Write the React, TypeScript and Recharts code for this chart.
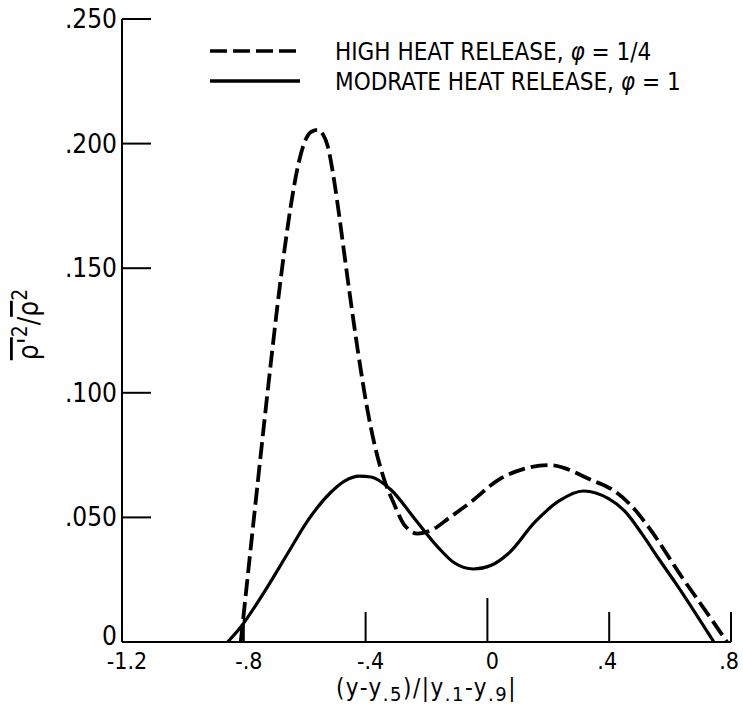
import { LineChart, Line, XAxis, YAxis, Legend } from 'recharts';

const FONT = "'Liberation Sans Narrow', 'DejaVu Sans Condensed', sans-serif";

const X_TICKS = [-1.2, -0.8, -0.4, 0, 0.4, 0.8];
const X_TICK_LABELS = ['-1.2', '-.8', '-.4', '0', '.4', '.8'];
const Y_TICKS = [0, 0.05, 0.1, 0.15, 0.2, 0.25];
const Y_TICK_LABELS = ['0', '.050', '.100', '.150', '.200', '.250'];

// high heat release, phi = 1/4 (dashed)
const HIGH_X = [-0.81, -0.766, -0.711, -0.689, -0.667, -0.645, -0.623, -0.601, -0.58, -0.558, -0.54, -0.525, -0.503, -0.486, -0.47, -0.448, -0.426, -0.393, -0.372, -0.339, -0.306, -0.273, -0.229, -0.174, -0.129, -0.053, 0.035, 0.12, 0.201, 0.342, 0.418, 0.474, 0.53, 0.639, 0.728, 0.787];
const HIGH_Y = [0, 0.0506, 0.1122, 0.1355, 0.1568, 0.1755, 0.1905, 0.2004, 0.2046, 0.2055, 0.2037, 0.1992, 0.1849, 0.1705, 0.1558, 0.136, 0.1173, 0.0925, 0.08, 0.0652, 0.0553, 0.047, 0.0435, 0.0455, 0.0495, 0.0563, 0.065, 0.0695, 0.071, 0.065, 0.0605, 0.0545, 0.046, 0.026, 0.0105, 0];

// moderate heat release, phi = 1 (solid)
const MOD_X = [-0.853, -0.81, -0.744, -0.656, -0.59, -0.514, -0.468, -0.421, -0.382, -0.316, -0.239, -0.162, -0.109, -0.046, 0.013, 0.069, 0.155, 0.234, 0.316, 0.398, 0.451, 0.507, 0.562, 0.616, 0.682, 0.744];
const MOD_Y = [0, 0.006, 0.0179, 0.0355, 0.0487, 0.0601, 0.0647, 0.0666, 0.0662, 0.061, 0.0495, 0.038, 0.0318, 0.0293, 0.0308, 0.0355, 0.048, 0.0565, 0.0606, 0.0575, 0.0525, 0.0435, 0.0335, 0.024, 0.0118, 0];

const LEGEND_NAMES = ['HIGH HEAT RELEASE, ', 'MODRATE HEAT RELEASE, '];
const LEGEND_PHI = ['1/4', '1'];
const LEGEND_DASH = ['17 6', undefined];

const high = HIGH_X.map((x, i) => ({ x, y: HIGH_Y[i] }));
const moderate = MOD_X.map((x, i) => ({ x, y: MOD_Y[i] }));

const idx = (arr: number[], v: number) => arr.findIndex((t) => Math.abs(t - v) < 1e-9);

function XTick({ x, y, payload }: any) {
  const v = payload.value;
  const len = Math.abs(v) < 1e-9 ? 44 : 30;
  return (
    <g>
      {v > -1.1 && <line x1={x} x2={x} y1={y} y2={y - len} stroke="#000" strokeWidth={2} />}
      <text x={x + (v < 0.1 ? 5 : -2)} y={y + 27} textAnchor="middle" fontSize={23} fontFamily={FONT} fill="#000">
        {X_TICK_LABELS[idx(X_TICKS, v)]}
      </text>
    </g>
  );
}

function YTick({ x, y, payload }: any) {
  const v = payload.value;
  return (
    <g>
      {v > 0 && <line x1={x} x2={x + 29} y1={y} y2={y} stroke="#000" strokeWidth={2} />}
      <text x={x - 5} y={y + (v > 0 ? 9 : 3)} textAnchor="end" fontSize={26} fontFamily={FONT} fill="#000">
        {Y_TICK_LABELS[idx(Y_TICKS, v)]}
      </text>
    </g>
  );
}

function YLabel({ viewBox }: any) {
  const cx = viewBox.x + 38;
  const cy = viewBox.y + viewBox.height / 2 - 6;
  return (
    <text transform={`translate(${cx},${cy}) rotate(-90)`} textAnchor="middle" fontSize={28} fontFamily={FONT} fill="#000">
      <tspan style={{ textDecoration: 'overline' }}>ρ'</tspan>
      <tspan fontSize={21} dy={-11}>2</tspan>
      <tspan dy={11}>/</tspan>
      <tspan style={{ textDecoration: 'overline' }}>ρ</tspan>
      <tspan fontSize={21} dy={-11}>2</tspan>
    </text>
  );
}

function XLabel({ viewBox }: any) {
  const cx = viewBox.x + viewBox.width / 2;
  return (
    <text x={cx} y={viewBox.y + 54} textAnchor="middle" fontSize={24} letterSpacing={1.5} fontFamily={FONT} fill="#000">
      (y-y<tspan dy={5} fontSize={20}>.5</tspan>
      <tspan dy={-5}>)/|y</tspan>
      <tspan dy={5} fontSize={20}>.1</tspan>
      <tspan dy={-5}>-y</tspan>
      <tspan dy={5} fontSize={20}>.9</tspan>
      <tspan dy={-5}>|</tspan>
    </text>
  );
}

function LegendBox() {
  return (
    <svg width={480} height={70}>
      {LEGEND_NAMES.map((name, i) => (
        <g key={name}>
          <line x1={0} x2={90} y1={20 + i * 30} y2={20 + i * 30} stroke="#000" strokeWidth={3.5} strokeDasharray={LEGEND_DASH[i]} />
          <text x={125} y={29 + i * 30} fontSize={24} fontFamily={FONT} fill="#000">
            {name}
            <tspan fontStyle="italic">φ</tspan>
            {' = ' + LEGEND_PHI[i]}
          </text>
        </g>
      ))}
    </svg>
  );
}

export default function App() {
  return (
    <div style={{ position: 'absolute', left: 0, top: 0, background: '#fff' }}>
      <LineChart width={743} height={717} margin={{ top: 19, right: 12, left: 0, bottom: 0 }}>
        <XAxis
          type="number"
          dataKey="x"
          domain={[-1.2, 0.8]}
          ticks={X_TICKS}
          allowDataOverflow
          height={75}
          tickSize={0}
          tickMargin={0}
          tickLine={false}
          tick={<XTick />}
          axisLine={{ stroke: '#000', strokeWidth: 2 }}
          label={<XLabel />}
        />
        <YAxis
          type="number"
          domain={[0, 0.25]}
          ticks={Y_TICKS}
          allowDataOverflow
          width={122}
          tickSize={0}
          tickMargin={0}
          tickLine={false}
          tick={<YTick />}
          axisLine={{ stroke: '#000', strokeWidth: 2 }}
          label={<YLabel />}
        />
        <Legend
          layout="vertical"
          verticalAlign="middle"
          align="center"
          content={() => <LegendBox />}
          wrapperStyle={{ left: 210, top: 31, width: 480, height: 70 }}
        />
        <Line data={high} dataKey="y" name="high" type="monotone" stroke="#000" strokeWidth={3.8} strokeDasharray="17 6" dot={false} isAnimationActive={false} />
        <Line data={moderate} dataKey="y" name="moderate" type="monotone" stroke="#000" strokeWidth={3.2} dot={false} isAnimationActive={false} />
      </LineChart>
    </div>
  );
}
